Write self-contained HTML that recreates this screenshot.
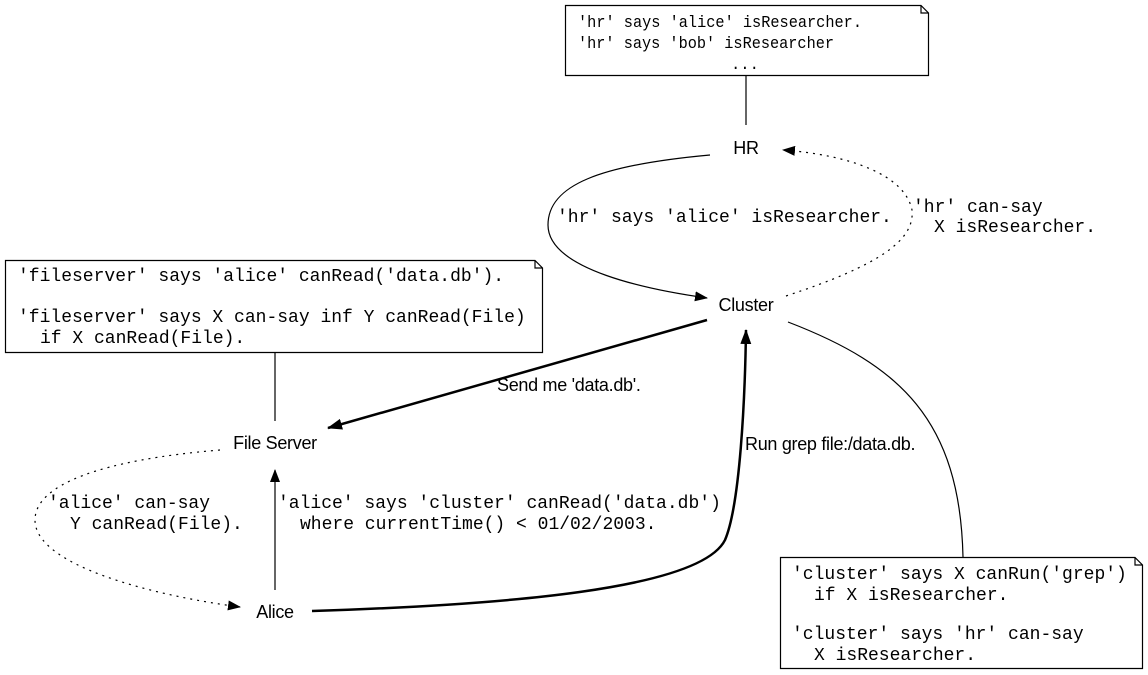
<!DOCTYPE html>
<html><head><meta charset="utf-8"><style>
html,body{margin:0;padding:0;background:#fff;}
svg{display:block;}
.m{font-family:"Liberation Mono",monospace;font-size:18px;}
.t{font-family:"Liberation Mono",monospace;font-size:15.5px;transform-box:fill-box;}
.s{font-family:"Liberation Sans",sans-serif;font-size:18px;letter-spacing:-0.3px;}
</style></head><body>
<svg width="1148" height="675" viewBox="0 0 1148 675" xmlns="http://www.w3.org/2000/svg">
<defs>
<marker id="a" markerWidth="13" markerHeight="10" refX="12" refY="5" orient="auto" markerUnits="userSpaceOnUse">
<path d="M0,0 L13,5 L0,10 z" fill="#000"/></marker>
<marker id="b" markerWidth="15" markerHeight="11" refX="14" refY="5.5" orient="auto" markerUnits="userSpaceOnUse">
<path d="M0,0 L15,5.5 L0,11 z" fill="#000"/></marker>
</defs>
<g fill="#fff" stroke="#000" stroke-width="1.2">
<path d="M565.5,5.5 H921 L928.5,13 V75.5 H565.5 Z"/>
<path d="M921,5.5 V13 H928.5" fill="none"/>
<path d="M5.5,260.5 H535 L542.5,268 V352.5 H5.5 Z"/>
<path d="M535,260.5 V268 H542.5" fill="none"/>
<path d="M780.5,557.5 H1135 L1142.5,565 V668.5 H780.5 Z"/>
<path d="M1135,557.5 V565 H1142.5" fill="none"/>
</g>
<g fill="none" stroke="#000" stroke-width="1.2">
<line x1="746" y1="76" x2="746" y2="125"/>
<line x1="275" y1="353" x2="275" y2="421"/>
<path d="M710,155 C600,165 548,185 548,225 C548,270 650,290 707,298" marker-end="url(#a)"/>
<path d="M786,296 C880,265 915,240 912,210 C905,175 850,155 783,150" stroke-dasharray="2,5" marker-end="url(#a)"/>
<path d="M788,322 C900,365 960,420 963,557"/>
<line x1="275" y1="590" x2="275" y2="470" marker-end="url(#a)"/>
<path d="M220,450 C100,460 35,485 35,520 C35,565 150,595 240,607" stroke-dasharray="2,5" marker-end="url(#a)"/>
<path d="M707,320 L328,428" stroke-width="2.5" marker-end="url(#b)"/>
<path d="M312,611 C500,605 700,590 725,540 C740,505 745,400 746,330" stroke-width="2.5" marker-end="url(#b)"/>
</g>
<g class="t">
<text x="578" y="27" font-size="17" textLength="284" lengthAdjust="spacingAndGlyphs">'hr' says 'alice' isResearcher.</text>
<text x="578" y="48" font-size="17" textLength="256" lengthAdjust="spacingAndGlyphs">'hr' says 'bob' isResearcher</text>
<text x="731" y="69">...</text>
</g>
<g class="m">
<text x="557" y="222">'hr' says 'alice' isResearcher.</text>
<text x="913" y="212">'hr' can-say</text>
<text x="934" y="232">X isResearcher.</text>
<text x="18" y="281">'fileserver' says 'alice' canRead('data.db').</text>
<text x="18" y="322">'fileserver' says X can-say inf Y canRead(File)</text>
<text x="40" y="343">if X canRead(File).</text>
<text x="278" y="508">'alice' says 'cluster' canRead('data.db')</text>
<text x="300" y="529">where currentTime() &lt; 01/02/2003.</text>
<text x="48" y="508">'alice' can-say</text>
<text x="70" y="529">Y canRead(File).</text>
<text x="792" y="579">'cluster' says X canRun('grep')</text>
<text x="814" y="600">if X isResearcher.</text>
<text x="792" y="639">'cluster' says 'hr' can-say</text>
<text x="814" y="660">X isResearcher.</text>
</g>
<g class="s">
<text x="746" y="154" text-anchor="middle">HR</text>
<text x="746" y="311" text-anchor="middle">Cluster</text>
<text x="275" y="449" text-anchor="middle">File Server</text>
<text x="275" y="618" text-anchor="middle">Alice</text>
<text x="497" y="391">Send me 'data.db'.</text>
<text x="745" y="450">Run grep file:/data.db.</text>
</g>
</svg>
</body></html>
